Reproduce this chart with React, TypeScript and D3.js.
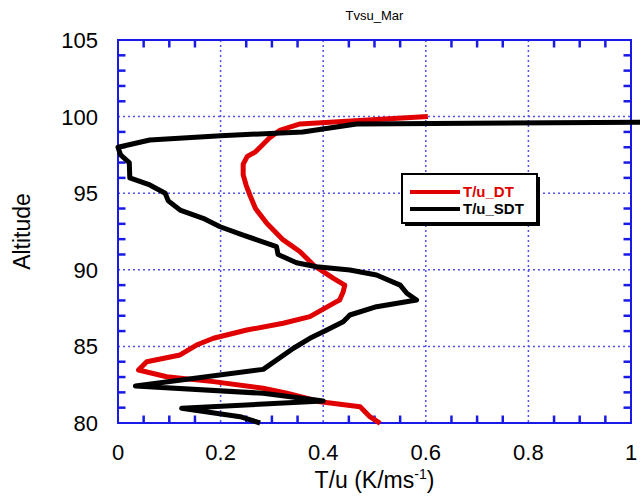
import React from "react";
import * as d3 from "d3";

// Altitude grid (km) and the two T/u profiles (K per m/s)
const dtAltitude = [100.0, 99.52, 99.1, 98.6, 98.1, 97.7, 97.4, 96.9, 96.2, 95.5, 94.8, 94.0, 93.04, 91.95, 91.18, 90.31, 89.44, 89.0, 88.57, 88.03, 87.92, 86.94, 86.51, 86.07, 85.53, 85.09, 84.44, 84.0, 83.46, 83.02, 82.7, 82.27, 81.94, 81.39, 81.06, 80.41, 79.98];
const dtValue = [0.604, 0.355, 0.315, 0.295, 0.28, 0.268, 0.252, 0.244, 0.244, 0.25, 0.258, 0.268, 0.29, 0.322, 0.355, 0.381, 0.42, 0.442, 0.439, 0.432, 0.426, 0.374, 0.322, 0.251, 0.186, 0.153, 0.121, 0.056, 0.04, 0.095, 0.186, 0.283, 0.329, 0.394, 0.472, 0.491, 0.511];

const sdtAltitude = [99.65, 99.52, 99.0, 98.75, 98.47, 98.0, 97.5, 97.0, 96.0, 95.54, 95.0, 94.5, 93.9, 93.36, 92.81, 92.27, 91.51, 91.0, 90.46, 90.2, 89.99, 89.66, 89.0, 88.47, 88.03, 87.59, 87.05, 86.61, 86.07, 85.53, 84.88, 83.5, 82.41, 81.94, 81.44, 80.96, 80.41, 80.0];
const sdtValue = [1.1, 0.465, 0.36, 0.2, 0.062, 0.0, 0.005, 0.022, 0.023, 0.062, 0.092, 0.098, 0.121, 0.166, 0.199, 0.244, 0.309, 0.312, 0.348, 0.387, 0.452, 0.504, 0.55, 0.563, 0.582, 0.504, 0.452, 0.439, 0.407, 0.374, 0.342, 0.283, 0.034, 0.283, 0.4, 0.124, 0.238, 0.277];

const xMajorTicks = [0, 0.2, 0.4, 0.6, 0.8, 1];
const xTickLabels = ["0", "0.2", "0.4", "0.6", "0.8", "1"];
const yMajorTicks = [80, 85, 90, 95, 100, 105];
const yTickLabels = ["80", "85", "90", "95", "100", "105"];

const seriesNames = ["T/u_DT", "T/u_SDT"];
const seriesColors = ["#e00000", "#000000"];

const chartTitle = "Tvsu_Mar";
const yAxisTitle = "Altitude";

const FONT = "'Liberation Sans', Arial, Helvetica, sans-serif";

export default function App() {
  const W = 640;
  const H = 496;
  const left = 118;
  const right = 631;
  const top = 40;
  const bottom = 423;

  const x = d3.scaleLinear().domain([0, 1]).range([left, right]);
  const y = d3.scaleLinear().domain([80, 105]).range([bottom, top]);

  const xMinor = d3.range(0, 1.0001, 0.05).filter((v) => Math.abs(v / 0.2 - Math.round(v / 0.2)) > 1e-6);
  const yMinor = d3.range(80, 105.001, 1).filter((v) => v % 5 !== 0);

  const line = d3
    .line<[number, number]>()
    .x((d) => x(d[0]))
    .y((d) => y(d[1]));

  const dtPath = line(dtValue.map((v, i) => [v, dtAltitude[i]]));
  const sdtPath = line(sdtValue.map((v, i) => [v, sdtAltitude[i]]));

  const axisBlue = "#1a1ae6";
  const gridBlue = "#5050f0";
  const tickLen = 7.5;

  const lg = { x: 402, y: 174, w: 135, h: 49 };

  return (
    <svg
      width={W}
      height={H}
      style={{ position: "absolute", left: 0, top: 0, background: "#fff" }}
      fontFamily={FONT}
    >
      <rect x={0} y={0} width={W} height={H} fill="#fff" />

      {/* dotted grid */}
      {xMajorTicks.slice(1, -1).map((v) => (
        <line key={"gx" + v} x1={x(v)} x2={x(v)} y1={top} y2={bottom} stroke={gridBlue} strokeWidth={1.5} strokeDasharray="2,3" />
      ))}
      {yMajorTicks.slice(1, -1).map((v) => (
        <line key={"gy" + v} x1={left} x2={right} y1={y(v)} y2={y(v)} stroke={gridBlue} strokeWidth={1.5} strokeDasharray="2,3" />
      ))}

      {/* inward ticks on all four sides */}
      {xMinor.map((v) => (
        <g key={"tx" + v}>
          <line x1={x(v)} x2={x(v)} y1={bottom} y2={bottom - tickLen} stroke={axisBlue} strokeWidth={2.5} />
          <line x1={x(v)} x2={x(v)} y1={top} y2={top + tickLen} stroke={axisBlue} strokeWidth={2.5} />
        </g>
      ))}
      {yMinor.map((v) => (
        <g key={"ty" + v}>
          <line x1={left} x2={left + tickLen} y1={y(v)} y2={y(v)} stroke={axisBlue} strokeWidth={2.5} />
          <line x1={right} x2={right - tickLen} y1={y(v)} y2={y(v)} stroke={axisBlue} strokeWidth={2.5} />
        </g>
      ))}

      {/* frame */}
      <rect x={left} y={top} width={right - left} height={bottom - top} fill="none" stroke={axisBlue} strokeWidth={2} />

      {/* profiles */}
      <path d={dtPath ?? ""} fill="none" stroke={seriesColors[0]} strokeWidth={5} strokeLinejoin="round" />
      <path d={sdtPath ?? ""} fill="none" stroke={seriesColors[1]} strokeWidth={5} strokeLinejoin="round" />

      {/* tick labels */}
      {xMajorTicks.map((v, i) => (
        <text key={"lx" + v} x={x(v)} y={460} textAnchor="middle" fontSize={22} fill="#000">
          {xTickLabels[i]}
        </text>
      ))}
      {yMajorTicks.map((v, i) => (
        <text key={"ly" + v} x={98} y={y(v) + 8} textAnchor="end" fontSize={22} fill="#000">
          {yTickLabels[i]}
        </text>
      ))}

      {/* titles */}
      <text x={(left + right) / 2} y={20} textAnchor="middle" fontSize={13} fill="#000">
        {chartTitle}
      </text>
      <text x={(left + right) / 2} y={488} textAnchor="middle" fontSize={23} fill="#000">
        T/u (K/ms
        <tspan dy={-9} fontSize={14}>-1</tspan>
        <tspan dy={9}>)</tspan>
      </text>
      <text
        transform={`translate(30, ${(top + bottom) / 2}) rotate(-90)`}
        textAnchor="middle"
        fontSize={23}
        fill="#000"
      >
        {yAxisTitle}
      </text>

      {/* legend */}
      <rect x={lg.x + 3} y={lg.y + 3} width={lg.w} height={lg.h} fill="#000" />
      <rect x={lg.x} y={lg.y} width={lg.w} height={lg.h} fill="#fff" stroke="#000" strokeWidth={2} />
      {seriesNames.map((name, i) => (
        <g key={name}>
          <line x1={lg.x + 8} x2={lg.x + 58} y1={lg.y + 18 + i * 17} y2={lg.y + 18 + i * 17} stroke={seriesColors[i]} strokeWidth={4} />
          <text x={lg.x + 61} y={lg.y + 23 + i * 17} fontSize={15} fontWeight="bold" fill={seriesColors[i]}>
            {name}
          </text>
        </g>
      ))}
    </svg>
  );
}
